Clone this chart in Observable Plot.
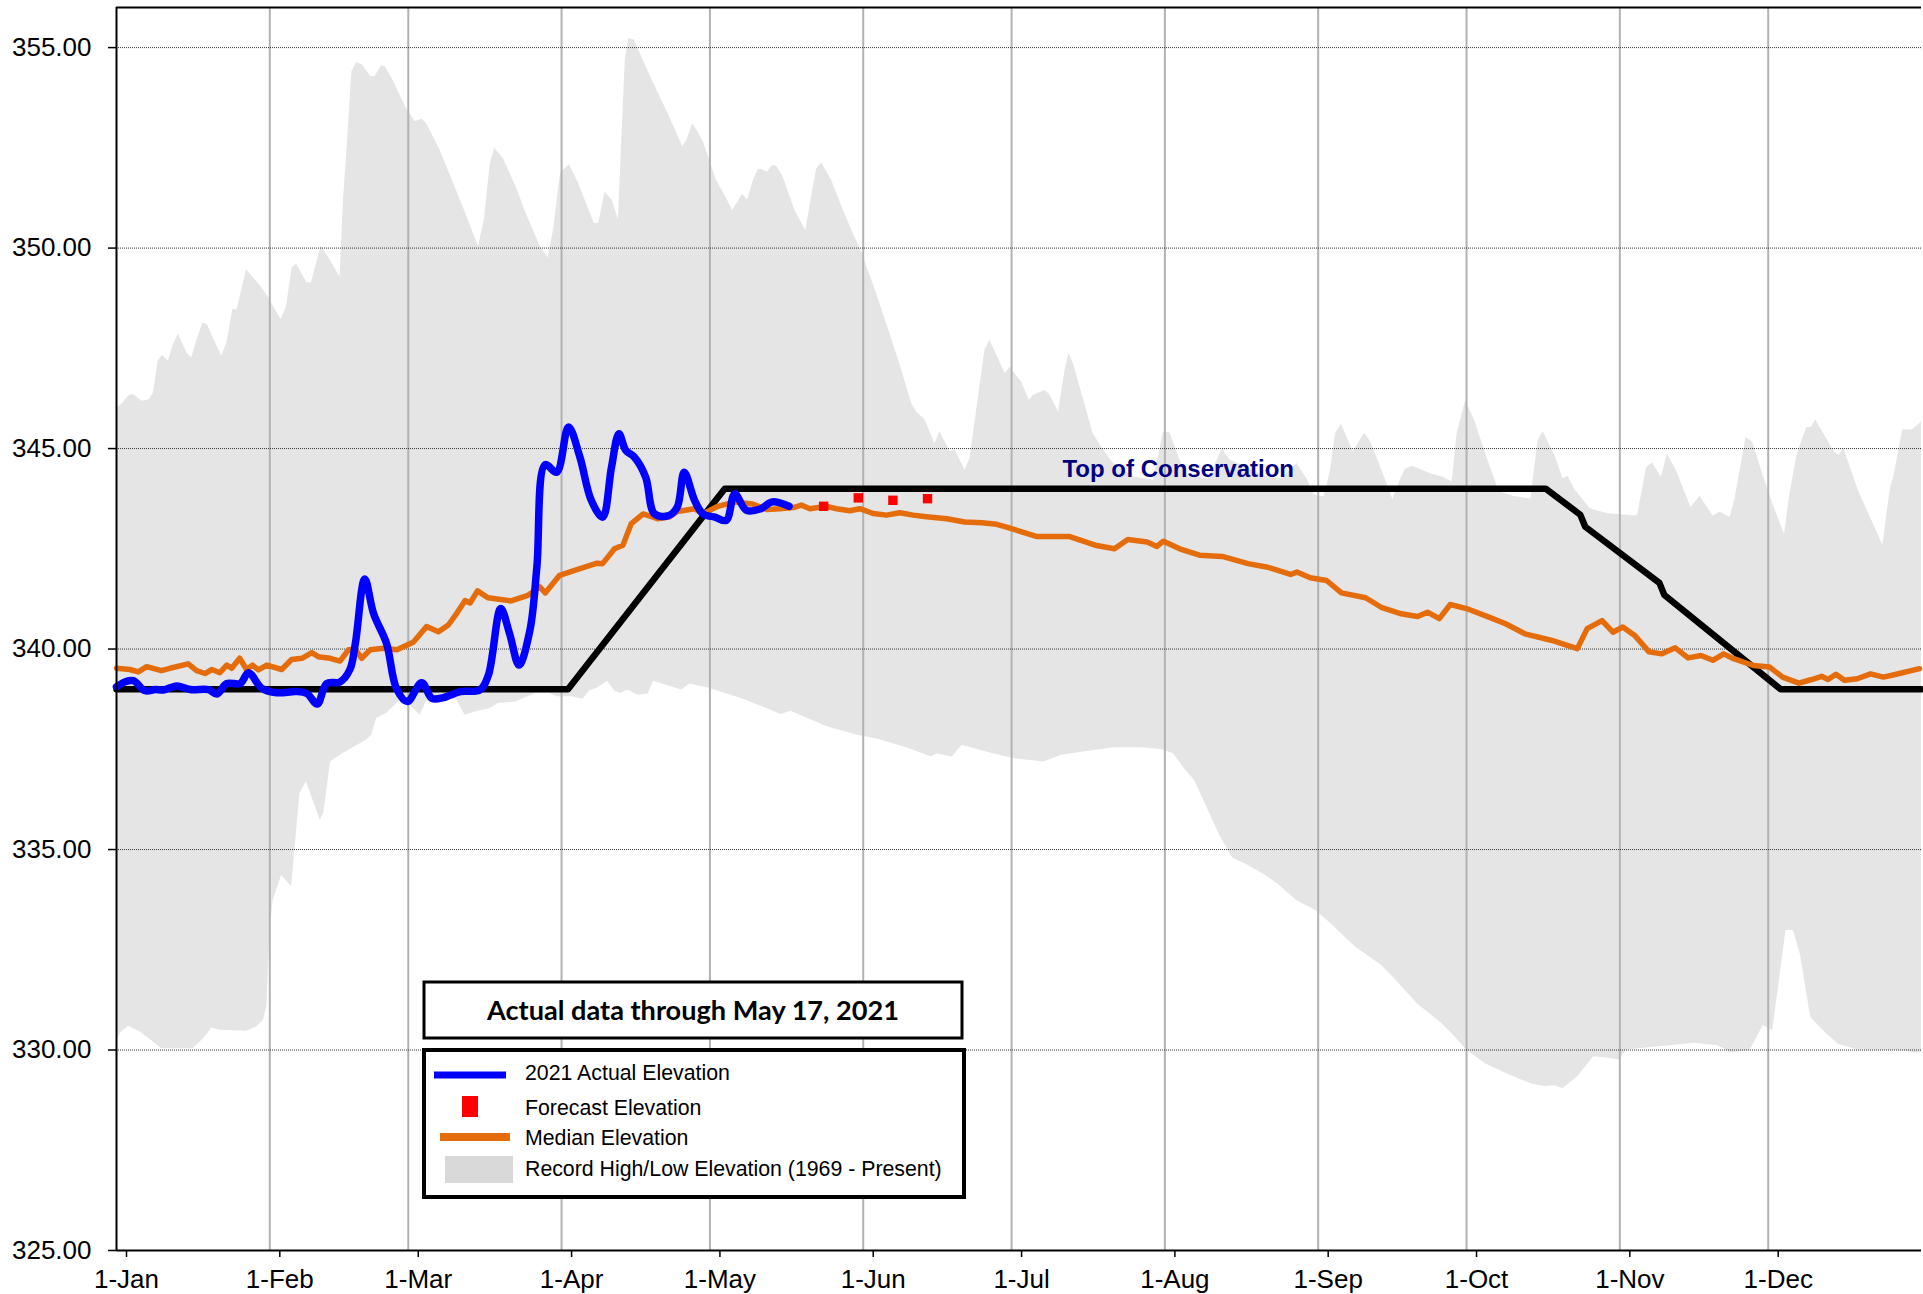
<!DOCTYPE html>
<html><head><meta charset="utf-8">
<script src="https://cdn.jsdelivr.net/npm/d3@7"></script>
<script src="https://cdn.jsdelivr.net/npm/@observablehq/plot@0.6"></script>
<style>html,body{margin:0;padding:0;background:#fff;} #chart svg{display:block;}</style>
</head><body><div id="chart"></div>
<script>
// ---- data (day-of-year offsets from 1-Jan, elevation in ft) ----
const monthTicks = ["2021-01-01","2021-02-01","2021-03-01","2021-04-01","2021-05-01","2021-06-01","2021-07-01","2021-08-01","2021-09-01","2021-10-01","2021-11-01","2021-12-01"];
const yTicks = [325, 330, 335, 340, 345, 350, 355];
const yTop = 356;

const recordHigh = [[0,346.0],[1.2,346.12],[2.5,346.32],[3.4,346.35],[5.2,346.18],[6.6,346.22],[7.5,346.39],[8.4,347.18],[9.3,347.33],[10.5,347.18],[11.4,347.55],[12.5,347.86],[14.3,347.37],[15.2,347.26],[16.4,347.76],[17.5,348.13],[18.4,348.09],[19.7,347.72],[21.3,347.3],[22.4,347.67],[23.5,348.46],[24.4,348.46],[26.3,349.46],[29.2,349.04],[30.6,348.79],[33.3,348.21],[34.4,348.55],[35.5,349.5],[36.4,349.6],[38.5,349.14],[39.4,349.12],[41.4,350.06],[43.2,349.7],[45.2,349.28],[45.9,351.2],[46.7,352.62],[47.6,354.4],[48.5,354.63],[49.7,354.57],[51.4,354.28],[52.3,354.28],[53.6,354.55],[54.3,354.53],[55.9,354.19],[58.6,353.49],[60.4,353.16],[61.8,353.21],[62.7,353.11],[65.4,352.45],[70.3,350.96],[73.2,350.04],[74.4,350.71],[75.6,352.12],[76.5,352.49],[78.3,352.22],[81.2,351.41],[82.5,350.96],[85.7,350.04],[87.3,349.75],[88.4,350.46],[89.8,351.87],[91.6,352.08],[93.4,351.62],[96.6,350.62],[97.5,350.62],[98.8,351.39],[100.2,351.2],[101.5,350.71],[102.3,353.03],[102.9,354.73],[103.6,355.23],[104.7,355.19],[108.3,354.19],[111.5,353.36],[114.5,352.53],[115.4,352.7],[116.5,353.1],[117.6,352.89],[118.7,352.64],[121.3,351.69],[123.4,351.23],[124.6,350.94],[126.6,351.34],[127.6,351.2],[128.8,351.69],[129.8,351.96],[130.5,351.96],[131.6,351.89],[132.7,352.06],[133.5,352.04],[134.8,351.77],[137.2,350.94],[139.4,350.44],[140.6,351.31],[141.6,351.98],[142.6,352.12],[144.6,351.69],[147,350.94],[149,350.36],[150.7,349.9],[153.7,348.86],[156.4,347.87],[158.8,346.95],[160.8,346.12],[161.8,345.91],[163.5,345.72],[165.5,345.12],[166.5,345.42],[168.6,344.92],[169.6,344.96],[171.6,344.46],[172.6,344.75],[175.6,347.45],[176.6,347.7],[179.7,346.87],[180.7,347.03],[183,346.66],[184.6,346.2],[185.4,346.33],[187.8,346.45],[188.8,346.33],[190.5,345.91],[191.8,346.95],[192.6,347.37],[193.5,347.12],[197.5,345.37],[199.6,344.96],[201.6,344.63],[205.7,344.29],[209.7,344.21],[211.7,345.4],[213,345.4],[215.3,344.63],[216.8,344.29],[218.8,344.29],[220.8,344.23],[223.6,344.98],[225.2,344.71],[227.7,344.58],[232.7,344.29],[235.7,344.25],[238.7,344.63],[240.7,344.25],[242.2,343.84],[244.2,343.79],[245.5,344.46],[246.5,345.37],[247.7,345.6],[250.1,344.92],[252.4,345.39],[253.6,345.17],[255.1,344.71],[258.1,343.73],[259.6,344.21],[260.6,344.48],[262.1,344.56],[265.6,344.38],[268.1,344.29],[270.1,344.17],[271.1,345.37],[272.8,346.19],[274.6,345.71],[277.1,344.79],[279.6,343.92],[282.5,343.81],[286,343.74],[287.5,345.21],[288.5,345.42],[291,344.79],[292.5,344.25],[293.5,344.31],[295,343.96],[298,343.5],[301.4,343.38],[306.9,343.32],[307.6,343.34],[309.4,344.53],[310.6,344.64],[312.4,344.28],[313.6,344.86],[315.4,344.46],[318.4,343.53],[320.2,343.81],[321.6,343.55],[322.9,343.31],[324.2,343.42],[326.3,343.28],[327.3,343.75],[329.5,345.27],[330.8,345.17],[333.3,344.21],[335.3,343.5],[337.3,342.86],[338.3,343.79],[339.8,344.83],[341.8,345.52],[342.8,345.54],[343.6,345.71],[345.8,345.25],[347.3,344.92],[348.3,344.83],[349.3,345.0],[352.2,343.96],[357.2,342.59],[358.7,344.0],[359.4,344.29],[361.2,345.46],[363.2,345.47],[365,345.66]];

const recordLow = [[0,330.16],[0.7,330.41],[2.4,330.59],[4.8,330.45],[6.8,330.26],[9.1,330.03],[15.5,330.03],[17.6,330.28],[19.3,330.55],[20.9,330.49],[26.3,330.47],[28.3,330.57],[29.7,330.74],[30.4,331.07],[31,332.9],[31.7,333.74],[33.4,334.36],[35.4,334.07],[37.1,336.4],[38.4,336.69],[41.2,335.73],[41.9,335.9],[43.3,337.19],[45.9,337.4],[50.6,337.73],[51.6,337.85],[52.6,338.27],[54.6,338.39],[56.7,338.64],[58,338.81],[59.4,338.6],[61.4,338.35],[62.7,338.69],[66.1,338.81],[68.8,338.73],[70.5,338.35],[72.9,338.44],[75.6,338.52],[77.2,338.64],[80.7,338.68],[84.8,338.89],[87.4,338.91],[89,338.81],[92.1,338.81],[94.3,338.75],[95.7,338.96],[97.2,339.02],[99.3,339.2],[100.8,338.95],[101.9,338.89],[103.4,338.98],[105.5,338.85],[107.5,338.88],[108.6,339.2],[114.3,338.98],[116,339.13],[119.8,339.02],[127.2,338.73],[134.4,338.37],[136.4,338.45],[143.7,338.06],[149.9,337.85],[154,337.75],[160.2,337.52],[164.8,337.31],[165.9,337.39],[169,337.31],[171,337.6],[176.7,337.41],[181.3,337.27],[187.5,337.18],[191.1,337.35],[198.4,337.48],[201.5,337.54],[207.6,337.54],[211.8,337.48],[213.8,337.38],[215.9,337.02],[218,336.73],[221.1,335.89],[223.1,335.35],[225.7,334.79],[228.3,334.64],[232.4,334.35],[234.8,334.14],[238.7,333.72],[242.7,333.47],[245.3,333.18],[250.6,332.56],[255.9,332.1],[258.5,331.77],[263.1,331.15],[267.7,330.69],[270.4,330.36],[273,330.0],[276.9,329.65],[280.9,329.42],[286.2,329.15],[288.8,329.09],[290.8,329.11],[292.5,329.04],[295.4,329.32],[298.7,329.83],[301.3,329.8],[304,329.75],[305.3,330.0],[319.1,330.17],[321.7,330.13],[323.7,330.11],[326.4,329.94],[330.3,329.98],[333,330.61],[334.9,330.48],[337.6,332.98],[339.1,332.98],[340.5,332.39],[342.6,330.81],[345.5,330.44],[348.1,330.15],[352.1,330.0],[361.3,329.98],[363.9,329.92],[365,329.94]];

const actual2021 = [[0,339.06],[1.7,339.18],[3.4,339.21],[5.8,338.96],[7.8,338.99],[9.5,338.98],[12.2,339.08],[14.9,338.99],[18.6,338.99],[20.3,338.88],[22.3,339.14],[25,339.14],[26.7,339.41],[29.4,339.02],[32.4,338.91],[36.4,338.94],[38.5,338.89],[40.6,338.63],[42.5,339.14],[45.2,339.18],[47.2,339.49],[48.3,340.14],[50.2,341.75],[52,340.88],[54.6,340.14],[56.6,339.02],[58.8,338.69],[61.7,339.16],[63.8,338.77],[66.1,338.79],[69.5,338.94],[73.5,338.98],[75.2,339.35],[77.7,341.01],[79.5,340.38],[81.4,339.6],[83.6,340.47],[85,342.04],[86.7,344.6],[89,344.41],[91.4,345.54],[93.7,344.79],[96,343.71],[98.3,343.29],[100.1,344.54],[101.6,345.37],[103,344.95],[104.7,344.79],[107,344.29],[108.8,343.37],[111.7,343.33],[113.4,343.54],[114.8,344.41],[116.9,343.71],[118.6,343.37],[121,343.29],[123.3,343.21],[125,343.87],[127.4,343.46],[130.3,343.5],[132.6,343.67],[136,343.56]];

const median = [[0,339.52],[2.7,339.49],[4.4,339.43],[6.1,339.56],[9.1,339.46],[10.8,339.52],[14.5,339.63],[16.2,339.46],[17.9,339.39],[19.3,339.49],[20.9,339.41],[22.3,339.6],[23.3,339.52],[24.9,339.77],[26.3,339.49],[27.5,339.6],[28.7,339.48],[30.4,339.6],[33.4,339.49],[35.4,339.74],[37.5,339.77],[39.5,339.91],[40.8,339.81],[43.2,339.77],[45.2,339.7],[46.9,339.98],[48.3,339.99],[49.6,339.77],[51.3,339.98],[54,340.02],[56.7,339.98],[60,340.17],[62.7,340.56],[65.1,340.43],[67.1,340.6],[68.8,340.89],[70.5,341.21],[71.5,341.15],[73,341.45],[75.1,341.28],[79.8,341.2],[83.2,341.34],[85.6,341.55],[86.7,341.4],[89.6,341.84],[93.1,341.98],[97.2,342.14],[98.3,342.13],[100.7,342.5],[102.4,342.59],[104.1,343.13],[106.5,343.37],[109.4,343.25],[111.7,343.29],[113.4,343.43],[116.9,343.5],[118.6,343.37],[121.6,343.56],[125,343.67],[128.5,343.62],[131.5,343.48],[134.2,343.5],[136.9,343.53],[138.5,343.59],[140.2,343.5],[143.6,343.56],[145.6,343.5],[148.3,343.45],[150.3,343.5],[153,343.38],[155.7,343.34],[158.4,343.4],[161.1,343.34],[163.8,343.3],[167.9,343.25],[171.5,343.17],[175,343.15],[178,343.11],[180,343.04],[186,342.81],[192.6,342.81],[197.9,342.59],[201.8,342.5],[204.5,342.73],[208.4,342.67],[210.4,342.56],[211.7,342.69],[215,342.5],[219,342.34],[223.6,342.31],[228.8,342.13],[232.8,342.04],[237.4,341.86],[238.7,341.92],[241.4,341.78],[244.7,341.71],[247.7,341.4],[252.6,341.28],[255.9,341.03],[259.8,340.88],[263.1,340.81],[265.1,340.92],[267.5,340.76],[269.7,341.11],[273,341.01],[278.3,340.76],[280.9,340.63],[284.8,340.38],[290.1,340.22],[295.4,340.01],[297.4,340.51],[300.4,340.71],[302.6,340.42],[304.6,340.55],[307,340.34],[309.9,339.93],[312.5,339.88],[315.2,340.03],[317.8,339.78],[320.4,339.84],[322.8,339.72],[325,339.88],[327,339.76],[331,339.59],[334.3,339.55],[336.9,339.3],[340.2,339.15],[342.8,339.24],[344.8,339.32],[346.1,339.24],[347.7,339.37],[349.4,339.22],[352,339.26],[354.7,339.38],[357.3,339.3],[359.9,339.37],[364.6,339.51]];

const topOfConservation = [[0,339],[91.3,339],[123,344],[289,344],[296,343.35],[297,343.05],[312,341.65],[313,341.35],[336.5,339],[365,339]];

const forecast = [[143,343.56],[150,343.77],[157,343.71],[164,343.75]];

const annotations = [{day: 214.7, value: 344.48, label: "Top of Conservation"}];

const legendTitle = "Actual data through May 17, 2021";
const legendLabels = ["2021 Actual Elevation", "Forecast Elevation", "Median Elevation", "Record High/Low Elevation (1969 - Present)"];

// ---- helpers ----
const yearStart = Date.UTC(2021, 0, 1);
const toDate = d => new Date(yearStart + d * 864e5);
const rows = pts => pts.map(([d, v]) => ({date: toDate(d), value: v}));
const monthDates = monthTicks.map(s => new Date(s + "T00:00:00Z"));

const C = {blue: "#0000ff", orange: "#e46c0a", red: "#ff0000", band: "#e5e5e5", grid: "#b2b2b2", navy: "#000080"};
const FONT = "'Liberation Sans', Arial, Helvetica, sans-serif";

const chart = Plot.plot({
  width: 1923, height: 1294,
  marginLeft: 116, marginRight: 2, marginTop: 7, marginBottom: 44,
  x: {type: "utc", domain: [toDate(0), toDate(365)]},
  y: {domain: [yTicks[0], yTop]},
  style: {fontFamily: FONT, fontSize: "26px", color: "#000", background: "#fff"},
  marks: [
    Plot.areaY(rows(recordHigh), {x: "date", y1: yTicks[0], y2: "value", fill: C.band}),
    Plot.areaY(rows(recordLow), {x: "date", y1: yTicks[0], y2: "value", fill: "#ffffff"}),
    Plot.ruleX(monthDates.slice(1), {stroke: C.grid, strokeWidth: 2}),
    Plot.ruleY(yTicks.slice(1), {stroke: "#333", strokeWidth: 1, strokeDasharray: "1,1"}),
    Plot.line(rows(topOfConservation), {x: "date", y: "value", stroke: "#000", strokeWidth: 6.5, strokeLinejoin: "round"}),
    Plot.line(rows(median), {x: "date", y: "value", stroke: C.orange, strokeWidth: 5.5, strokeLinejoin: "round"}),
    Plot.line(rows(actual2021), {x: "date", y: "value", stroke: C.blue, strokeWidth: 7.5, curve: "catmull-rom"}),
    Plot.dot(rows(forecast), {x: "date", y: "value", symbol: "square", r: 5.3, fill: C.red, stroke: "none"}),
    Plot.text(annotations, {x: d => toDate(d.day), y: "value", text: "label", fill: C.navy, fontWeight: "bold", fontSize: 24, fontFamily: FONT}),
    Plot.ruleY([yTicks[0]], {stroke: "#000", strokeWidth: 2}),
    Plot.ruleY([yTop], {stroke: "#000", strokeWidth: 2}),
    Plot.ruleX([toDate(0)], {stroke: "#000", strokeWidth: 2}),
    Plot.axisY({ticks: yTicks, tickFormat: d => d.toFixed(2), tickSize: 8, tickPadding: 17, fontSize: 26, strokeWidth: 1.5, label: null}),
    Plot.axisX({ticks: monthDates, tickFormat: d3.utcFormat("%-d-%b"), tickSize: 7, tickPadding: 12, fontSize: 26, dx: 10, strokeWidth: 1.5, label: null})
  ]
});
document.getElementById("chart").append(chart);

// ---- legend boxes (drawn on top of the plot) ----
const svg = d3.select(chart);
const lg = svg.append("g").attr("text-anchor", "start");
lg.append("rect").attr("x", 424).attr("y", 982).attr("width", 538).attr("height", 56)
  .attr("fill", "#fff").attr("stroke", "#000").attr("stroke-width", 3);
lg.append("text").attr("x", 693).attr("y", 1020).attr("text-anchor", "middle")
  .attr("font-family", "Lato, 'Open Sans', sans-serif").attr("font-weight", "bold").attr("font-size", 27)
  .attr("textLength", 412).attr("lengthAdjust", "spacingAndGlyphs")
  .text(legendTitle);
lg.append("rect").attr("x", 424).attr("y", 1050).attr("width", 540).attr("height", 147)
  .attr("fill", "#fff").attr("stroke", "#000").attr("stroke-width", 4);
lg.append("line").attr("x1", 434).attr("x2", 506).attr("y1", 1075).attr("y2", 1075)
  .attr("stroke", C.blue).attr("stroke-width", 7);
lg.append("rect").attr("x", 462).attr("y", 1096).attr("width", 16).attr("height", 21).attr("fill", C.red);
lg.append("line").attr("x1", 440).attr("x2", 510).attr("y1", 1137).attr("y2", 1137)
  .attr("stroke", C.orange).attr("stroke-width", 8);
lg.append("rect").attr("x", 445).attr("y", 1156).attr("width", 68).attr("height", 27).attr("fill", "#d9d9d9");
const ys = [1073, 1108, 1138, 1169];
legendLabels.forEach((t, i) => {
  lg.append("text").attr("x", 525).attr("y", ys[i]).attr("dy", "0.35em").attr("text-anchor", "start")
    .attr("font-family", FONT).attr("font-size", 21.3).attr("fill", "#000").text(t);
});
</script>
</body></html>
